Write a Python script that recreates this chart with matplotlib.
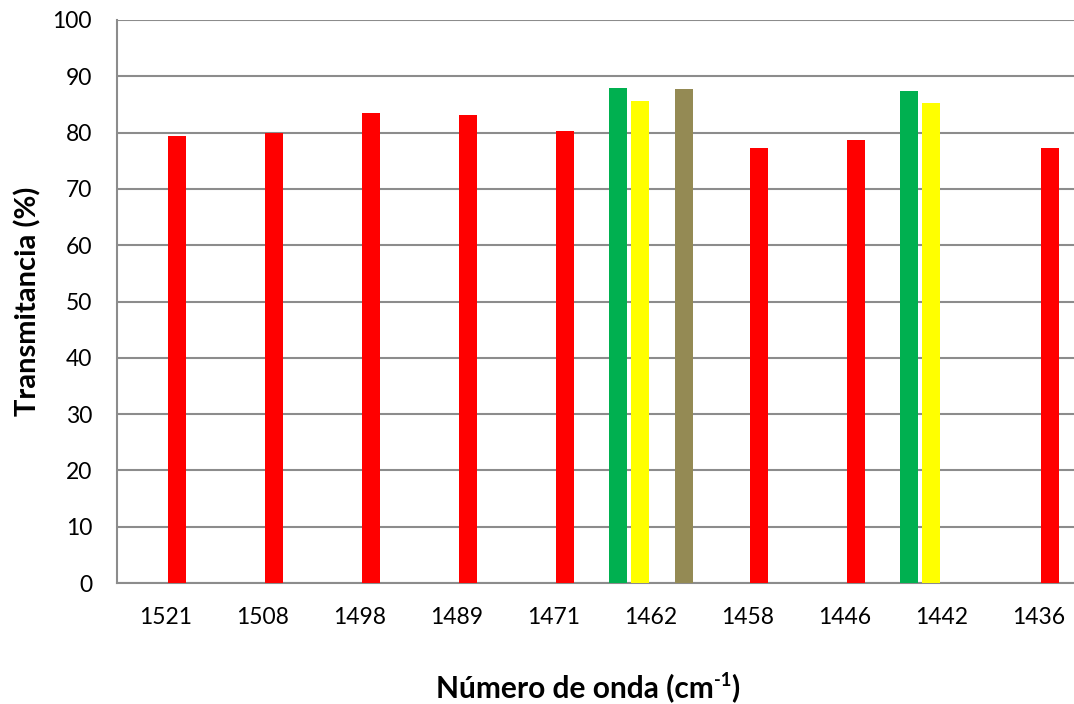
import numpy as np
import matplotlib
matplotlib.use("Agg")
import matplotlib.pyplot as plt

categories = ["1521", "1508", "1498", "1489", "1471", "1462", "1458", "1446", "1442", "1436"]
nan = np.nan
green = [nan, nan, nan, nan, nan, 87.9, nan, nan, 87.4, nan]
yellow = [nan, nan, nan, nan, nan, 85.6, nan, nan, 85.3, nan]
red = [79.4, 79.9, 83.5, 83.2, 80.3, nan, 77.3, 78.6, nan, 77.3]
olive = [nan, nan, nan, nan, nan, 87.7, nan, nan, nan, nan]
series = [green, yellow, red, olive]
colors = ["#00B050", "#FFFF00", "#FF0000", "#948A54"]
yticks = [0, 10, 20, 30, 40, 50, 60, 70, 80, 90, 100]

W, H = 1074, 704
fig = plt.figure(figsize=(W / 100, H / 100), dpi=100)
left, right, top, bottom = 117, 1087, 20, 583
ax = fig.add_axes([left / W, (H - bottom) / H, (right - left) / W, (bottom - top) / H])

x = np.arange(len(categories))
slot = 22 / 97
bw = 18 / 97
for i, (vals, c) in enumerate(zip(series, colors)):
    off = (i - 1.5) * slot
    ax.bar(x + off, vals, width=bw, color=c, zorder=3)

ax.set_xlim(-0.5, len(categories) - 0.5)
ax.set_ylim(0, 100)
ax.set_yticks(yticks)
ax.set_xticks(x)
ax.set_xticklabels(categories)
ax.yaxis.grid(True, color="#8C8C8C", linewidth=1.5, zorder=0)
ax.set_axisbelow(True)
for s in ["top", "right"]:
    ax.spines[s].set_visible(False)
for s in ["left", "bottom"]:
    ax.spines[s].set_color("#8C8C8C")
    ax.spines[s].set_linewidth(1.5)
ax.tick_params(axis="both", length=0, labelsize=16.5, colors="black")
ax.tick_params(axis="y", pad=18)
ax.tick_params(axis="x", pad=17)
for lab in ax.get_xticklabels() + ax.get_yticklabels():
    lab.set_fontfamily("Lato")

# x label with superscript built from text pieces
fig.canvas.draw()
r = fig.canvas.get_renderer()
lab_fs = 21.5
t1 = fig.text(0, 1 - 688 / H, "Número de onda (cm", ha="left", va="center",
              fontsize=lab_fs, fontweight="bold", family="Lato")
t2 = fig.text(0, 1 - 680 / H, "-1", ha="left", va="center",
              fontsize=lab_fs * 0.62, fontweight="bold", family="Lato")
t3 = fig.text(0, 1 - 688 / H, ")", ha="left", va="center",
              fontsize=lab_fs, fontweight="bold", family="Lato")
w1 = t1.get_window_extent(r).width
w2 = t2.get_window_extent(r).width
w3 = t3.get_window_extent(r).width
total = w1 + w2 + w3
x0 = 588 - total / 2
t1.set_x(x0 / W)
t2.set_x((x0 + w1) / W)
t3.set_x((x0 + w1 + w2) / W)

fig.text(28 / W, 1 - 301 / H, "Transmitancia (%)", ha="center", va="center", rotation=90,
         fontsize=21, fontweight="bold", family="Lato")

fig.savefig("out.png", dpi=100)
